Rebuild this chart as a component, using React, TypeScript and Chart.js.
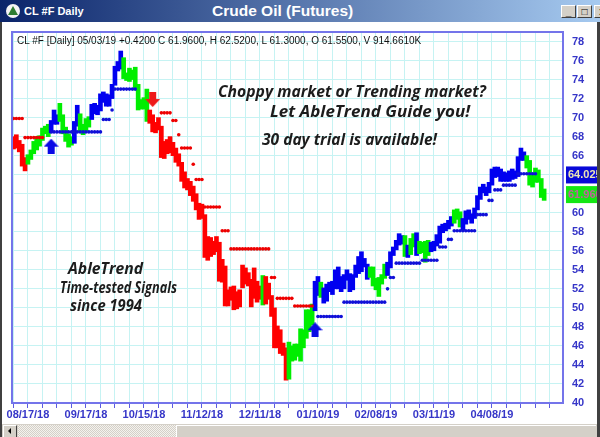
import React, { useEffect, useRef } from "react";
import { Chart, registerables } from "chart.js";
Chart.register(...registerables);

// ---- data (bar index 0 = 08/10/18, last bar 183 = 05/03/19) ----
const HIGH = [
  68.0, 68.2, 67.6, 67.2, 65.8, 66.1, 66.6, 67.5, 68.0, 68.1,
  68.9, 69.1, 69.3, 69.7, 70.8, 70.3, 71.5, 70.3, 69.0, 68.3,
  68.0, 69.6, 71.3, 70.4, 69.3, 69.9, 70.1, 71.4, 71.5, 71.3,
  72.5, 72.7, 72.5, 72.4, 73.5, 75.4, 75.9, 77.0, 76.3, 74.7,
  75.2, 75.0, 75.3, 73.5, 71.9, 72.1, 73.0, 70.8, 70.3, 69.5,
  70.0, 69.1, 67.5, 67.7, 68.0, 67.4, 66.8, 66.2, 65.3, 64.3,
  63.6, 63.3, 62.8, 62.0, 61.0, 60.9, 59.8, 57.5, 57.4, 57.0,
  57.5, 56.9, 55.1, 54.4, 51.9, 52.2, 52.3, 51.7, 51.9, 54.5,
  54.2, 53.7, 53.0, 54.2, 52.8, 52.3, 53.4, 53.3, 52.6, 51.3,
  50.0, 48.1, 47.7, 46.3, 45.8, 46.4, 46.0, 46.2, 46.2, 47.8,
  47.7, 49.8, 49.8, 50.4, 52.8, 53.3, 52.7, 52.1, 52.5, 52.7,
  52.8, 54.0, 54.3, 53.3, 53.5, 54.0, 53.6, 53.5, 54.5, 55.4,
  55.9, 55.2, 54.6, 54.3, 54.3, 53.1, 53.2, 53.5, 54.6, 54.8,
  55.9, 56.4, 57.1, 57.8, 57.6, 57.6, 56.6, 57.3, 57.8, 57.9,
  57.0, 56.9, 57.0, 57.1, 56.9, 57.0, 57.7, 58.6, 58.8, 58.9,
  59.2, 59.6, 60.3, 60.4, 60.1, 59.4, 60.2, 60.3, 59.9, 60.5,
  61.8, 62.7, 63.0, 62.7, 63.2, 64.6, 64.8, 64.8, 64.6, 64.3,
  64.2, 64.4, 64.6, 64.4, 65.9, 66.8, 66.4, 66.0, 65.5, 64.0,
  64.7, 64.5, 63.6, 62.5,
];
const LOW = [
  66.7, 66.8, 66.4, 64.9, 64.4, 65.1, 65.6, 66.2, 66.6, 67.0,
  67.6, 68.3, 68.0, 68.4, 69.3, 69.3, 69.6, 68.3, 67.5, 66.9,
  67.1, 67.3, 69.1, 68.5, 68.2, 68.6, 69.0, 69.8, 70.4, 70.3,
  70.7, 71.6, 71.2, 71.2, 72.0, 73.4, 74.9, 75.1, 74.1, 73.9,
  73.8, 74.0, 72.9, 70.8, 70.9, 70.9, 69.6, 69.4, 68.5, 68.4,
  68.7, 65.8, 65.7, 66.2, 66.3, 66.0, 65.3, 64.9, 63.3, 62.6,
  62.4, 61.8, 61.2, 60.3, 59.3, 59.4, 55.3, 55.0, 55.4, 55.6,
  55.9, 52.8, 52.7, 50.2, 50.2, 50.8, 49.8, 49.9, 50.1, 52.1,
  52.5, 52.3, 50.1, 51.0, 50.6, 50.9, 50.3, 50.4, 50.9, 49.1,
  45.8, 45.8, 45.2, 45.0, 42.4, 42.5, 44.4, 44.5, 44.9, 44.4,
  45.8, 46.8, 47.5, 48.2, 49.7, 51.3, 51.1, 50.5, 50.7, 51.7,
  51.4, 52.0, 52.0, 51.7, 52.0, 52.9, 51.7, 51.9, 53.2, 53.6,
  53.8, 54.3, 53.0, 53.2, 52.3, 51.9, 51.2, 52.5, 53.1, 53.4,
  54.2, 55.5, 56.1, 56.6, 56.7, 55.4, 55.3, 55.6, 56.4, 55.5,
  55.7, 55.8, 54.8, 55.5, 55.9, 56.0, 56.5, 56.8, 57.9, 58.1,
  58.3, 58.6, 58.9, 59.3, 58.5, 58.2, 58.8, 59.3, 58.9, 59.4,
  60.3, 61.4, 62.1, 61.8, 62.1, 62.9, 63.7, 63.8, 63.3, 63.3,
  63.3, 63.3, 63.5, 63.6, 63.8, 65.5, 65.5, 64.7, 62.9, 62.7,
  63.2, 63.2, 61.6, 61.3,
];
// trend signal per bar: R = bearish, G = neutral, B = bullish
const SIGNAL =
  "RRRRR" + "GGGGGGGG" + "BBB" + "GGGGG" + "BB" + "GGGG" + "BBBBBBBBBBB" +
  "GGGGGGGGG" + "RRRRRRRRRRRRRRRRRRRRRRRRRRRRRRRRRRRRRRR" + "G" + "RRRRRRRR" +
  "GGGGGGGGG" + "BB" + "G" + "BBBBBBBBBBBBBBBB" + "GGGGGG" + "BBBBBB" + "G" + "B" +
  "GG" + "B" + "GGGG" + "BBBBBBBB" + "GGG" + "BBBBBBBBBBBBBBBBBBBBBB" + "GGGGGGG";

// trailing stop levels: [first bar, last bar, level]
const RED_STOPS: [number, number, number][] = [
  [0, 3, 69.9], [4, 10, 67.9], [51, 54, 70.5], [55, 56, 69.7], [57, 57, 68.2],
  [58, 61, 66.8], [62, 62, 65.1], [63, 65, 63.5], [66, 71, 60.6], [72, 74, 58.1],
  [75, 88, 56.2], [89, 90, 53.2], [91, 96, 51.0], [97, 103, 50.2],
];
const BLUE_STOPS: [number, number, number][] = [
  [13, 30, 68.5], [31, 33, 69.8], [34, 34, 70.8], [35, 42, 73.0],
  [105, 113, 49.1], [114, 128, 50.6], [129, 129, 52.0], [130, 131, 53.2],
  [132, 140, 54.7], [141, 146, 55.0], [147, 149, 56.4], [150, 151, 57.2],
  [152, 159, 58.1], [160, 163, 59.8], [164, 165, 61.3], [166, 168, 62.4],
  [169, 173, 62.9], [174, 180, 64.1],
];
const BUY_ARROWS: [number, number][] = [[13, 67.0], [104, 47.7]];
const SELL_ARROWS: [number, number][] = [[48, 71.9]];

const DATE_LABELS = ["08/17/18", "09/17/18", "10/15/18", "11/12/18", "12/11/18", "01/10/19", "02/08/19", "03/11/19", "04/08/19"];
const DATE_LABEL_INDEX = [5, 25, 45, 65, 85, 105, 125, 145, 165];
const Y_TICKS = [40, 42, 44, 46, 48, 50, 52, 54, 56, 58, 60, 62, 64, 66, 68, 70, 72, 74, 76, 78];
const LAST_STOP = 64.025;
const LAST_CLOSE = 61.96;
const HEADER = "CL #F [Daily] 05/03/19 +0.4200 C 61.9600, H 62.5200, L 61.3000, O 61.5500, V 914.6610K";

const SIGNAL_COLOR: Record<string, string> = { R: "#ff0000", G: "#00ee00", B: "#0000f0" };
const AXIS_FONT = { family: '"Liberation Sans", Arial, sans-serif', size: 11, weight: "bold" as const };

function stopPoints(segs: [number, number, number][]) {
  const pts: { x: number; y: number }[] = [];
  segs.forEach(([a, b, v]) => {
    for (let i = a; i <= b; i++) pts.push({ x: i, y: v });
  });
  return pts;
}

function makeArrow(up: boolean, color: string) {
  const c = document.createElement("canvas");
  c.width = 15;
  c.height = 15;
  const g = c.getContext("2d")!;
  g.fillStyle = color;
  g.beginPath();
  if (up) {
    g.moveTo(7.5, 0); g.lineTo(15, 8); g.lineTo(11, 8); g.lineTo(11, 15);
    g.lineTo(4, 15); g.lineTo(4, 8); g.lineTo(0, 8);
  } else {
    g.moveTo(7.5, 15); g.lineTo(15, 7); g.lineTo(11, 7); g.lineTo(11, 0);
    g.lineTo(4, 0); g.lineTo(4, 7); g.lineTo(0, 7);
  }
  g.closePath();
  g.fill();
  return c;
}

const framePlugin = {
  id: "frame",
  afterDraw(chart: any) {
    const { ctx, chartArea: a, scales } = chart;
    ctx.save();
    ctx.strokeStyle = "#7474ea";
    ctx.lineWidth = 2;
    ctx.strokeRect(a.left, a.top, a.right - a.left, a.bottom - a.top);
    const boxes: [number, string, string][] = [
      [LAST_STOP, "#0808d8", "#ece6b4"],
      [LAST_CLOSE, "#14e614", "#c0609c"],
    ];
    ctx.font = 'bold 11px "Liberation Sans", Arial, sans-serif';
    ctx.textBaseline = "middle";
    ctx.textAlign = "left";
    boxes.forEach(([v, bg, fg]) => {
      const py = scales.y.getPixelForValue(v);
      ctx.fillStyle = bg;
      ctx.fillRect(a.right + 3, py - 8, 40, 17);
      ctx.fillStyle = fg;
      ctx.fillText(v.toFixed(3), a.right + 5, py + 1);
    });
    ctx.restore();
  },
};

const PROMO: { text: string; left: number; top: number; width: number }[] = [
  { text: "Choppy market or Trending market?", left: 218, top: 83, width: 268 },
  { text: "Let AbleTrend Guide you!", left: 270, top: 103, width: 200 },
  { text: "30 day trial is available!", left: 262, top: 131, width: 175 },
  { text: "AbleTrend", left: 68, top: 260, width: 75 },
  { text: "Time-tested Signals", left: 60, top: 279, width: 117 },
  { text: "since 1994", left: 70, top: 297, width: 72 },
];

export default function App() {
  const ref = useRef<HTMLCanvasElement>(null);
  const promoRefs = useRef<(HTMLDivElement | null)[]>([]);
  useEffect(() => {
    promoRefs.current.forEach((el, k) => {
      if (!el) return;
      el.style.transform = "none";
      const w = el.getBoundingClientRect().width;
      if (w > 0) el.style.transform = `scaleX(${PROMO[k].width / w})`;
    });
    const canvas = ref.current!;
    const bars = HIGH.map((h, i) => ({ x: i, y: [LOW[i], h] }));
    const barColors = HIGH.map((_, i) => SIGNAL_COLOR[SIGNAL[i]]);
    const upArrow = makeArrow(true, "#0a0ae6");
    const downArrow = makeArrow(false, "#ee1a1a");
    const gridIdx: number[] = [];
    for (let i = 0; i <= 185; i += 5) gridIdx.push(i);
    const chart = new Chart(canvas, {
      type: "bar",
      data: {
        datasets: [
          {
            type: "scatter",
            data: [...BUY_ARROWS, ...SELL_ARROWS].map(([x, y]) => ({ x, y })),
            pointStyle: [...BUY_ARROWS.map(() => upArrow), ...SELL_ARROWS.map(() => downArrow)] as any,
            pointRadius: 8,
            borderWidth: 0,
          } as any,
          {
            type: "scatter",
            data: stopPoints(RED_STOPS),
            pointRadius: 1.8,
            borderWidth: 0,
            backgroundColor: "#ee0000",
          } as any,
          {
            type: "scatter",
            data: stopPoints(BLUE_STOPS),
            pointRadius: 1.8,
            borderWidth: 0,
            backgroundColor: "#1010d8",
          } as any,
          {
            type: "bar",
            data: bars as any,
            backgroundColor: barColors,
            borderWidth: 0,
            barThickness: 4,
          } as any,
        ],
      },
      options: {
        animation: false,
        responsive: false,
        maintainAspectRatio: false,
        layout: { padding: { left: 12, top: 32, right: 0, bottom: 12 } },
        plugins: { legend: { display: false }, tooltip: { enabled: false }, title: { display: false } },
        scales: {
          x: {
            type: "linear",
            min: -0.5,
            max: 189.5,
            offset: false,
            afterBuildTicks: (s: any) => {
              s.ticks = gridIdx.map((v) => ({ value: v }));
            },
            afterFit: (s: any) => {
              s.height = 22;
            },
            grid: { color: "#c6f3f3", tickColor: "#5c5ce0", tickLength: 5, offset: false, lineWidth: 1 },
            border: { display: false },
            ticks: {
              autoSkip: false,
              maxRotation: 0,
              padding: 0,
              color: "#3636c8",
              font: AXIS_FONT,
              callback: (v: any) => {
                const k = DATE_LABEL_INDEX.indexOf(Number(v));
                return k >= 0 ? DATE_LABELS[k] : "";
              },
            },
          } as any,
          y: {
            type: "linear",
            position: "right",
            min: 40,
            max: 79,
            afterBuildTicks: (s: any) => {
              s.ticks = Y_TICKS.map((v) => ({ value: v }));
            },
            afterFit: (s: any) => {
              s.width = 37;
            },
            grid: { color: "#c6f3f3", drawTicks: false },
            border: { display: false },
            ticks: { padding: 9, color: "#3636c8", font: AXIS_FONT, callback: (v: any) => String(v) },
          } as any,
        },
      },
      plugins: [framePlugin],
    });
    return () => chart.destroy();
  }, []);

  const italic: React.CSSProperties = {
    position: "absolute",
    fontFamily: '"Open Sans", sans-serif',
    fontStyle: "italic",
    fontWeight: 700,
    fontSize: 16,
    lineHeight: "16px",
    color: "#1c1c1c",
    whiteSpace: "nowrap",
    transformOrigin: "0 0",
  };
  const btn: React.CSSProperties = {
    position: "absolute",
    top: 5,
    width: 15,
    height: 13,
    background: "#d4d0c8",
    borderTop: "1px solid #ffffff",
    borderLeft: "1px solid #ffffff",
    borderRight: "1px solid #404040",
    borderBottom: "1px solid #404040",
    boxSizing: "border-box",
    fontFamily: '"Liberation Sans", Arial, sans-serif',
    fontSize: 10,
    fontWeight: "bold",
    lineHeight: "11px",
    textAlign: "center",
    color: "#000",
  };

  return (
    <div style={{ position: "fixed", left: 0, top: 0, width: 600, height: 437, overflow: "hidden", background: "#ffffff" }}>
      <canvas ref={ref} width={600} height={437} style={{ position: "absolute", left: 0, top: 0, display: "block" }} />
      {/* window title bar */}
      <div style={{ position: "absolute", left: 0, top: 0, width: 600, height: 22, background: "linear-gradient(to right, #0a246a, #a6caf0)" }} />
      <div style={{ position: "absolute", left: 6, top: 4, width: 14, height: 14, borderRadius: 7, background: "#f4f4f4" }} />
      <div style={{ position: "absolute", left: 8, top: 6, width: 0, height: 0, borderLeft: "5px solid transparent", borderRight: "5px solid transparent", borderBottom: "9px solid #2e7d32" }} />
      <div style={{ position: "absolute", left: 24, top: 4, color: "#fff", fontFamily: '"Liberation Sans", Arial, sans-serif', fontWeight: "bold", fontSize: 11, lineHeight: "14px", whiteSpace: "nowrap" }}>CL #F Daily</div>
      <div style={{ position: "absolute", left: 212, top: 3, color: "#fff", fontFamily: '"Liberation Sans", Arial, sans-serif', fontWeight: "bold", fontSize: 15.5, lineHeight: "16px", whiteSpace: "nowrap" }}>Crude Oil (Futures)</div>
      <div style={{ ...btn, left: 561 }}>_</div>
      <div style={{ ...btn, left: 577 }}>□</div>
      <div style={{ ...btn, left: 594, width: 16 }}>x</div>
      {/* window frame */}
      <div style={{ position: "absolute", left: 0, top: 22, width: 2, height: 415, background: "#404040" }} />
      <div style={{ position: "absolute", left: 597, top: 22, width: 3, height: 415, background: "#404040" }} />
      {/* header text */}
      <div style={{ position: "absolute", left: 17, top: 36, fontFamily: '"Liberation Sans", Arial, sans-serif', fontSize: 10, lineHeight: "10px", color: "#111", whiteSpace: "nowrap" }}>{HEADER}</div>
      {/* promo text */}
      {PROMO.map((p, k) => (
        <div key={k} ref={(el) => { promoRefs.current[k] = el; }} style={{ ...italic, left: p.left, top: p.top }}>
          {p.text}
        </div>
      ))}
      {/* scrollbar */}
      <div style={{ position: "absolute", left: 2, top: 424, width: 595, height: 13, background: "#d4d0c8" }} />
      <div style={{ position: "absolute", left: 3, top: 425, width: 14, height: 12, background: "#d4d0c8", borderTop: "1px solid #fff", borderLeft: "1px solid #fff", borderRight: "1px solid #404040", boxSizing: "border-box" }} />
      <div style={{ position: "absolute", left: 8, top: 428, width: 0, height: 0, borderTop: "3px solid transparent", borderBottom: "3px solid transparent", borderRight: "3px solid #000" }} />
      <div style={{ position: "absolute", left: 18, top: 425, width: 158, height: 12, backgroundColor: "#e8e6e2", backgroundImage: "repeating-conic-gradient(#d4d0c8 0% 25%, #f4f2ee 0% 50%)", backgroundSize: "2px 2px" }} />
      <div style={{ position: "absolute", left: 176, top: 425, width: 420, height: 12, background: "#d4d0c8", borderTop: "1px solid #fff", borderLeft: "1px solid #fff", boxSizing: "border-box" }} />
    </div>
  );
}
